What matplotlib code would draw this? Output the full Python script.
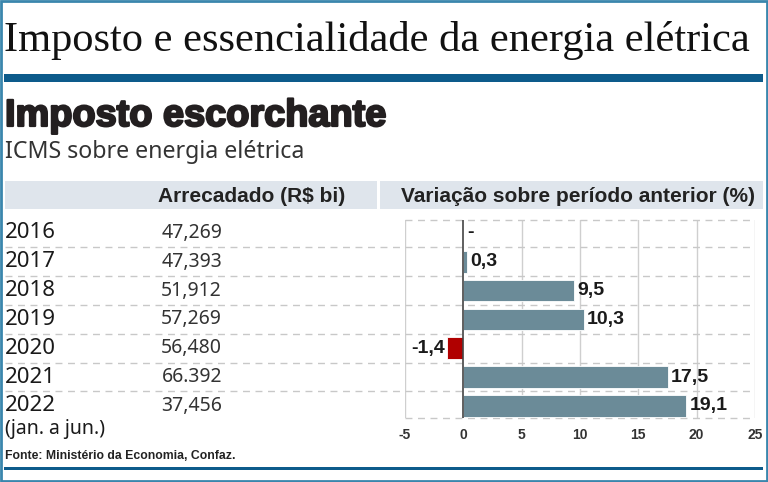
import matplotlib

matplotlib.use("Agg")
import matplotlib.pyplot as plt
import matplotlib.patheffects as pe
from matplotlib.patches import Rectangle
from matplotlib.transforms import blended_transform_factory

years = ["2016", "2017", "2018", "2019", "2020", "2021", "2022"]
collected = ["47,269", "47,393", "51,912", "57,269", "56,480", "66.392", "37,456"]
variation = [0.0, 0.3, 9.5, 10.3, -1.4, 17.5, 19.1]
variation_labels = ["-", "0,3", "9,5", "10,3", "-1,4", "17,5", "19,1"]
x_ticks = [-5, 0, 5, 10, 15, 20, 25]

W, H = 768, 482
NARROW = dict(family="Noto Sans", stretch="condensed")
BOLD = dict(family="Liberation Sans", fontweight="bold")
BAR = "#6b8b98"
NEG = "#b00000"
BLUE = "#0d5b8b"
FRAME = "#3a86ad"
BAND = "#dfe5ec"

fig = plt.figure(figsize=(W / 100, H / 100), dpi=100)
fig.patch.set_facecolor("white")

# pixel-coordinate overlay for the fixed layout
bg = fig.add_axes([0, 0, 1, 1])
bg.set_xlim(0, W)
bg.set_ylim(H, 0)
bg.axis("off")

bg.add_patch(Rectangle((1, 1), W - 2, H - 2, fill=False, ec=FRAME, lw=2))
bg.text(4, 40, "Imposto e essencialidade da energia elétrica", family="Liberation Serif",
        fontsize=30.6, va="center", ha="left", color="#111111")
bg.add_patch(Rectangle((4, 74), 759, 8, color=BLUE, lw=0))
bg.text(5, 116, "Imposto escorchante", **BOLD, fontsize=27.3, va="center", ha="left",
        color="#231f20", path_effects=[pe.withStroke(linewidth=1.6, foreground="#231f20")])
bg.text(5, 152, "ICMS sobre energia elétrica", **NARROW,
        fontsize=16.7, va="center", ha="left", color="#333333")
bg.add_patch(Rectangle((5, 181), 372, 28, color=BAND, lw=0))
bg.add_patch(Rectangle((380, 181), 383, 28, color=BAND, lw=0))
bg.text(345, 196, "Arrecadado (R$ bi)", **BOLD,
        fontsize=15, va="center", ha="right", color="#222222")
bg.text(755, 196, "Variação sobre período anterior (%)", **BOLD,
        fontsize=15, va="center", ha="right", color="#222222")
bg.text(5, 456, "Fonte: Ministério da Economia, Confaz.", **BOLD,
        fontsize=8.8, va="center", ha="left", color="#222222")
bg.add_patch(Rectangle((4, 467), 759, 3, color=BLUE, lw=0))

# bar chart
left, right, top, bottom = 405, 755, 220, 418
ax = fig.add_axes([left / W, 1 - bottom / H, (right - left) / W, (bottom - top) / H])
ax.patch.set_alpha(0)
pos = list(range(len(years)))
colors = [NEG if v < 0 else BAR for v in variation]
ax.barh(pos, variation, height=0.75, color=colors, edgecolor="white", linewidth=0.6, zorder=3)
ax.set_xlim(-5, 25)
ax.set_ylim(6.42, -0.45)
ax.set_xticks(x_ticks)
ax.set_xticklabels([str(t) for t in x_ticks], **BOLD, fontsize=10, color="#333333")
ax.tick_params(axis="x", length=0, pad=7)
ax.set_yticks([])
for s in ax.spines.values():
    s.set_visible(False)
for t in x_ticks:
    ax.axvline(t, color="#444444" if t == 0 else "#cfcfcf", lw=1.2 if t == 0 else 1,
               zorder=4 if t == 0 else 1)

# dashed row separators, running across the table too
for y in [-0.45] + [p + 0.5 for p in pos[:-1]] + [6.42]:
    ax.axhline(y, xmin=-1.143 if -0.45 < y < 6 else 0, xmax=1, color="#c8c8c8",
               lw=1, ls=(0, (5, 4)), clip_on=False, zorder=1)

for p, v, lab in zip(pos, variation, variation_labels):
    if v < 0:
        ax.text(v - 0.2, p, lab, ha="right", va="center", **BOLD,
                fontsize=14, color="#1a1a1a")
    else:
        ax.text(v + 0.3, p, lab, ha="left", va="center", **BOLD,
                fontsize=14, color="#1a1a1a")

tr = blended_transform_factory(fig.transFigure, ax.transData)
for p, yr, val in zip(pos, years, collected):
    ax.text(5 / W, p, yr, transform=tr, ha="left", va="center", **NARROW,
            fontsize=16, color="#1a1a1a")
    ax.text(222 / W, p, val, transform=tr, ha="right", va="center", **NARROW,
            fontsize=14, color="#333333")
ax.text(5 / W, 6.8, "(jan. a jun.)", transform=tr, ha="left", va="center", **NARROW,
        fontsize=14, color="#1a1a1a")

fig.savefig("out.png", dpi=100)
